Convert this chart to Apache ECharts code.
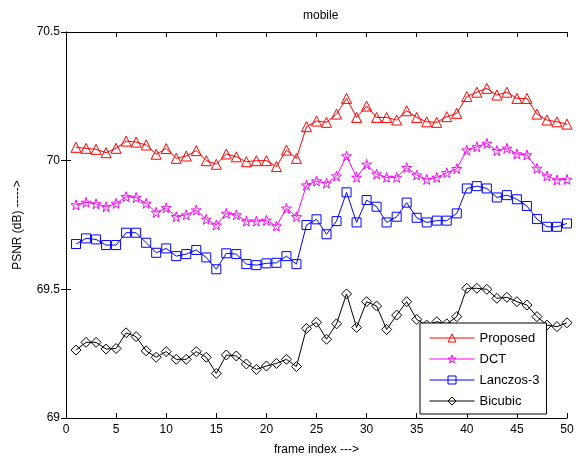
<!DOCTYPE html>
<html><head><meta charset="utf-8">
<script src="https://cdn.jsdelivr.net/npm/echarts@6/dist/echarts.min.js"></script>
<style>html,body{margin:0;padding:0;background:#fff}#c{width:581px;height:462px}</style>
</head><body><div id="c"></div>
<script>
const frames = [1,2,3,4,5,6,7,8,9,10,11,12,13,14,15,16,17,18,19,20,21,22,23,24,25,26,27,28,29,30,31,32,33,34,35,36,37,38,39,40,41,42,43,44,45,46,47,48,49,50];
const proposed = [70.052,70.048,70.044,70.031,70.048,70.076,70.072,70.061,70.025,70.047,70.009,70.018,70.039,70.000,69.986,70.026,70.015,69.996,70.000,70.000,69.977,70.041,70.009,70.132,70.154,70.149,70.181,70.242,70.168,70.212,70.168,70.168,70.158,70.194,70.168,70.151,70.149,70.171,70.184,70.249,70.266,70.281,70.255,70.266,70.242,70.242,70.181,70.158,70.151,70.142];
const dct = [69.828,69.838,69.832,69.821,69.834,69.860,69.857,69.834,69.799,69.817,69.782,69.789,69.808,69.772,69.750,69.795,69.789,69.765,69.765,69.768,69.746,69.815,69.782,69.905,69.921,69.912,69.940,70.018,69.935,69.986,69.948,69.935,69.935,69.973,69.944,69.927,69.935,69.953,69.969,70.041,70.054,70.067,70.039,70.048,70.026,70.022,69.970,69.940,69.925,69.927];
const lanczos = [69.676,69.698,69.694,69.672,69.672,69.720,69.720,69.681,69.642,69.659,69.629,69.637,69.653,69.624,69.578,69.640,69.637,69.598,69.594,69.601,69.603,69.629,69.598,69.750,69.772,69.714,69.765,69.877,69.760,69.847,69.821,69.760,69.782,69.837,69.778,69.760,69.767,69.767,69.795,69.892,69.901,69.892,69.857,69.866,69.850,69.824,69.773,69.743,69.743,69.756];
const bicubic = [69.264,69.294,69.294,69.268,69.270,69.331,69.316,69.261,69.236,69.258,69.228,69.228,69.258,69.236,69.173,69.245,69.241,69.210,69.189,69.202,69.212,69.228,69.200,69.348,69.372,69.306,69.366,69.482,69.352,69.452,69.435,69.344,69.400,69.452,69.383,69.361,69.374,69.366,69.394,69.504,69.504,69.500,69.465,69.469,69.452,69.439,69.394,69.361,69.355,69.370];
const seriesNames = ['Proposed','DCT','Lanczos-3','Bicubic'];
const xTicks = {min:0, max:50, step:5};
const yTicks = {min:69, max:70.5, step:0.5};

const star = 'path://M50,0 L61,35 L98,35 L68,57 L79,91 L50,70 L21,91 L32,57 L2,35 L39,35 Z';
const font = 'Liberation Sans, Arial, sans-serif';
const pair = arr => frames.map((f,i)=>[f, arr[i]]);
function mk(name, arr, color, symbol, size){
  return {
    name, type:'line', data: pair(arr), symbol, symbolSize: size,
    showAllSymbol: true,
    lineStyle:{color, width:1},
    itemStyle:{color:'rgba(255,255,255,0)', borderColor:color, borderWidth:1},
    emphasis:{disabled:true}, animation:false
  };
}
const chart = echarts.init(document.getElementById('c'), null, {renderer:'canvas'});
const axisLine = {lineStyle:{color:'#000', width:1}};
chart.setOption({
  backgroundColor:'#fff',
  animation:false,
  title:{text:'mobile', left:298, top:5, textStyle:{fontFamily:font, fontSize:12, fontWeight:'normal', color:'#000'}},
  grid:{left:66, right:14, top:32, bottom:44},
  legend:{
    orient:'vertical', left:420, top:323,
    data: seriesNames,
    itemWidth:45, itemHeight:10, itemGap:7,
    padding:[8,7,6,9],
    lineStyle:{width:1},
    itemStyle:{borderWidth:1},
    backgroundColor:'#fff', borderColor:'#000', borderWidth:1, borderRadius:0,
    textStyle:{fontFamily:font, fontSize:13, color:'#000', lineHeight:14, height:14}
  },
  xAxis:[{
    type:'value', min:xTicks.min, max:xTicks.max, interval:xTicks.step,
    name:'frame index --->', nameLocation:'middle', nameGap:26,
    nameTextStyle:{fontFamily:font, fontSize:12, color:'#000'},
    axisLine, axisTick:{inside:true, length:5, lineStyle:{color:'#000'}},
    axisLabel:{fontFamily:font, fontSize:12, color:'#000', margin:6},
    splitLine:{show:false}
  },{
    type:'value', position:'top', min:xTicks.min, max:xTicks.max, interval:xTicks.step,
    axisLine, axisTick:{inside:true, length:5, lineStyle:{color:'#000'}},
    axisLabel:{show:false}, splitLine:{show:false}
  }],
  yAxis:[{
    type:'value', min:yTicks.min, max:yTicks.max, interval:yTicks.step,
    name:'PSNR (dB) ----->', nameLocation:'middle', nameGap:42,
    nameTextStyle:{fontFamily:font, fontSize:12, color:'#000'},
    axisLine, axisTick:{inside:true, length:5, lineStyle:{color:'#000'}},
    axisLabel:{fontFamily:font, fontSize:12, color:'#000', margin:6},
    splitLine:{show:false}
  },{
    type:'value', position:'right', min:yTicks.min, max:yTicks.max, interval:yTicks.step,
    axisLine, axisTick:{inside:true, length:5, lineStyle:{color:'#000'}},
    axisLabel:{show:false}, splitLine:{show:false}
  }],
  series:[
    mk(seriesNames[0], proposed, '#ff0000', 'triangle', 10),
    mk(seriesNames[1], dct, '#ff00ff', star, 10),
    mk(seriesNames[2], lanczos, '#0000ff', 'rect', 9),
    mk(seriesNames[3], bicubic, '#000000', 'diamond', 10)
  ]
});
</script></body></html>
